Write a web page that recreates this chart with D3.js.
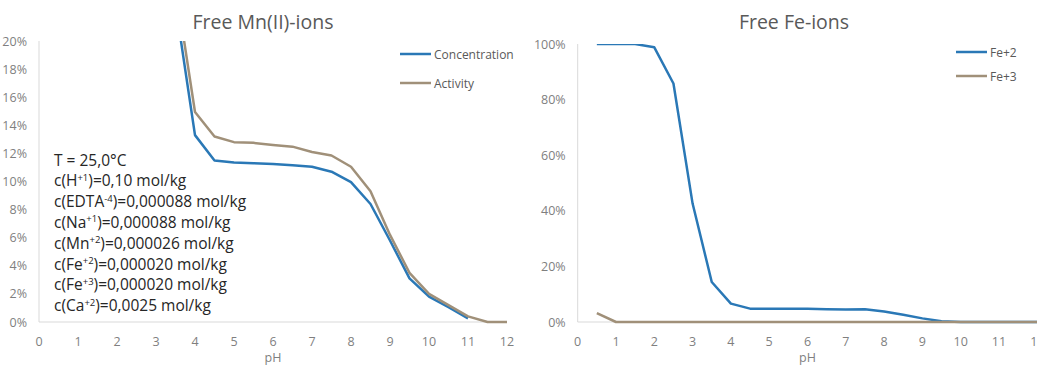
<!DOCTYPE html>
<html>
<head>
<meta charset="utf-8">
<script src="https://cdn.jsdelivr.net/npm/d3@7"></script>
<style>
  html, body { margin: 0; padding: 0; background: #fff; }
  svg { display: block; font-family: 'Open Sans', sans-serif; }
</style>
</head>
<body>
<svg id="chart" width="1037" height="365"></svg>
<script>
// pH steps shared by both charts
const phValues = [0.5, 1, 1.5, 2, 2.5, 3, 3.5, 4, 4.5, 5, 5.5, 6, 6.5, 7, 7.5, 8, 8.5, 9, 9.5, 10, 10.5, 11, 11.5, 12];

// Free Mn(II)-ions, fraction (null = not plotted)
const mnConcentration = [null, null, null, null, null, null, 0.226, 0.133, 0.115, 0.1135, 0.113, 0.1125, 0.1115, 0.1105, 0.107, 0.0995, 0.084, 0.058, 0.031, 0.018, 0.0105, 0.0026, null, null];
const mnActivity = [null, null, null, null, null, null, 0.240, 0.1495, 0.132, 0.128, 0.1275, 0.126, 0.1248, 0.121, 0.1185, 0.1105, 0.093, 0.062, 0.035, 0.020, 0.012, 0.004, 0, 0];

// Free Fe-ions, fraction
const fe2 = [1.0, 1.0, 1.0, 0.988, 0.858, 0.426, 0.144, 0.066, 0.048, 0.048, 0.048, 0.048, 0.046, 0.045, 0.046, 0.038, 0.026, 0.013, 0.003, 0, 0, 0, 0, 0];
const fe3 = [0.032, 0, 0, 0, 0, 0, 0, 0, 0, 0, 0, 0, 0, 0, 0, 0, 0, 0, 0, 0, 0, 0, 0, 0];

const xTicks = [0, 1, 2, 3, 4, 5, 6, 7, 8, 9, 10, 11, 12];
const mnYTicks = [0, 0.02, 0.04, 0.06, 0.08, 0.10, 0.12, 0.14, 0.16, 0.18, 0.20];
const feYTicks = [0, 0.2, 0.4, 0.6, 0.8, 1.0];

const conditions = [
  [['T = 25,0°C', null]],
  [['c(H', null], ['+1', 'sup'], [')=0,10 mol/kg', null]],
  [['c(EDTA', null], ['-4', 'sup'], [')=0,000088 mol/kg', null]],
  [['c(Na', null], ['+1', 'sup'], [')=0,000088 mol/kg', null]],
  [['c(Mn', null], ['+2', 'sup'], [')=0,000026 mol/kg', null]],
  [['c(Fe', null], ['+2', 'sup'], [')=0,000020 mol/kg', null]],
  [['c(Fe', null], ['+3', 'sup'], [')=0,000020 mol/kg', null]],
  [['c(Ca', null], ['+2', 'sup'], [')=0,0025 mol/kg', null]]
];

const blue = '#2a78b6';
const tan = '#a09079';
const axisGray = '#d9d9d9';
const labelGray = '#7f7f7f';
const titleGray = '#595959';

const svg = d3.select('#chart');

function drawPanel(opts) {
  const x = d3.scaleLinear().domain([0, 12]).range([opts.left, opts.right]);
  const y = d3.scaleLinear().domain([0, opts.yMax]).range([opts.bottom, opts.top]);
  const g = svg.append('g');

  const clipId = 'clip-' + opts.id;
  svg.append('clipPath').attr('id', clipId)
    .append('rect')
    .attr('x', opts.left).attr('y', opts.top)
    .attr('width', opts.right - opts.left + 5)
    .attr('height', opts.bottom - opts.top + 3);

  // axes lines
  g.append('line')
    .attr('x1', opts.left).attr('x2', opts.left)
    .attr('y1', opts.top).attr('y2', opts.bottom)
    .attr('stroke', axisGray).attr('stroke-width', 1);
  g.append('line')
    .attr('x1', opts.left).attr('x2', opts.right)
    .attr('y1', opts.bottom).attr('y2', opts.bottom)
    .attr('stroke', axisGray).attr('stroke-width', 1);

  // y tick labels
  g.selectAll('.ytick').data(opts.yTicks).enter().append('text')
    .attr('x', opts.left - 12)
    .attr('y', d => y(d) + 4.5)
    .attr('text-anchor', 'end')
    .attr('font-size', 12.5)
    .attr('fill', labelGray)
    .text(d => Math.round(d * 100) + '%');

  // x tick labels
  g.selectAll('.xtick').data(xTicks).enter().append('text')
    .attr('x', d => x(d))
    .attr('y', opts.bottom + 24)
    .attr('text-anchor', 'middle')
    .attr('font-size', 12.5)
    .attr('fill', labelGray)
    .text(d => d);

  g.append('text')
    .attr('x', x(6))
    .attr('y', opts.bottom + 40)
    .attr('text-anchor', 'middle')
    .attr('font-size', 12.5)
    .attr('fill', labelGray)
    .text('pH');

  // title
  g.append('text')
    .attr('x', opts.titleX)
    .attr('y', 29)
    .attr('text-anchor', 'middle')
    .attr('font-size', 19.5)
    .attr('fill', titleGray)
    .text(opts.title);

  const line = d3.line()
    .defined(d => d[1] !== null)
    .x(d => x(d[0]))
    .y(d => y(d[1]));

  opts.series.forEach((s, i) => {
    g.append('path')
      .datum(phValues.map((p, j) => [p, s.values[j]]))
      .attr('clip-path', `url(#${clipId})`)
      .attr('fill', 'none')
      .attr('stroke', s.color)
      .attr('stroke-width', 2.5)
      .attr('stroke-linejoin', 'round')
      .attr('d', line);

    const ly = opts.legendY + i * opts.legendStep;
    g.append('line')
      .attr('x1', opts.legendX).attr('x2', opts.legendX + 31)
      .attr('y1', ly).attr('y2', ly)
      .attr('stroke', s.color).attr('stroke-width', 2.5);
    g.append('text')
      .attr('x', opts.legendX + 34)
      .attr('y', ly + 4.5)
      .attr('font-size', 12)
      .attr('fill', titleGray)
      .text(s.name);
  });
  return g;
}

drawPanel({
  id: 'mn', left: 39, right: 507, top: 41, bottom: 322, yMax: 0.20,
  yTicks: mnYTicks, title: 'Free Mn(II)-ions', titleX: 263,
  legendX: 400, legendY: 54, legendStep: 29,
  series: [
    { name: 'Concentration', values: mnConcentration, color: blue },
    { name: 'Activity', values: mnActivity, color: tan }
  ]
});

drawPanel({
  id: 'fe', left: 577.7, right: 1037.3, top: 44, bottom: 322, yMax: 1.0,
  yTicks: feYTicks, title: 'Free Fe-ions', titleX: 794,
  legendX: 956, legendY: 52, legendStep: 24,
  series: [
    { name: 'Fe+2', values: fe2, color: blue },
    { name: 'Fe+3', values: fe3, color: tan }
  ]
});

// conditions text block on the Mn chart
const block = svg.append('g');
conditions.forEach((parts, i) => {
  const t = block.append('text')
    .attr('x', 54)
    .attr('y', 165.5 + i * 20.8)
    .attr('font-size', 15.5)
    .attr('fill', '#262626');
  parts.forEach(([txt, kind]) => {
    if (kind === 'sup') {
      t.append('tspan').attr('dy', -5.5).attr('font-size', 9.5).text(txt);
    } else {
      const sp = t.append('tspan').text(txt);
      if (t.selectAll('tspan').size() > 1) sp.attr('dy', 5.5);
    }
  });
});
</script>
</body>
</html>
